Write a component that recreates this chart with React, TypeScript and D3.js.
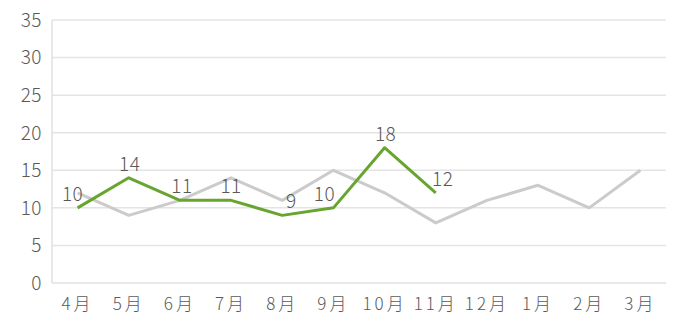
import React from "react";
import * as d3 from "d3";

const months = ["4月", "5月", "6月", "7月", "8月", "9月", "10月", "11月", "12月", "1月", "2月", "3月"];
const prevYear = [12, 9, 11, 14, 11, 15, 12, 8, 11, 13, 10, 15];
const thisYear = [10, 14, 11, 11, 9, 10, 18, 12];
const yTicks = [0, 5, 10, 15, 20, 25, 30, 35];
const labelNudge = [-5, 1, 2, 0, 9, -9, 1, 7];

const W = 685;
const H = 333;
const left = 52;
const right = 666;
const top = 20;
const bottom = 283;
const FONT = "'Noto Sans CJK JP', 'Noto Sans', sans-serif";

export default function App() {
  const x = d3.scaleBand<string>().domain(months).range([left, right]).padding(0);
  const y = d3.scaleLinear().domain([0, 35]).range([bottom, top]);
  const cx = (i: number) => (x(months[i]) as number) + x.bandwidth() / 2;
  const line = d3
    .line<number>()
    .x((_, i) => cx(i))
    .y((d) => y(d));

  return (
    <svg width={W} height={H} style={{ position: "absolute", left: 0, top: 0, background: "#fff" }}>
      {yTicks.map((t) => (
        <g key={t}>
          {t > 0 && (
            <line x1={left} x2={right} y1={y(t)} y2={y(t)} stroke="#e4e4e4" strokeWidth={1.5} />
          )}
          <text
            x={42}
            y={y(t)}
            dy="0.36em"
            textAnchor="end"
            fontFamily={FONT}
            fontSize={19}
            fontWeight={300}
            letterSpacing={0.5}
            fill="#595959"
          >
            {t}
          </text>
        </g>
      ))}
      <line x1={left} x2={right} y1={y(0)} y2={y(0)} stroke="#e0e0e0" strokeWidth={1.5} />
      <line x1={left} x2={left} y1={top} y2={bottom} stroke="#e0e0e0" strokeWidth={1.5} />
      {months.map((m, i) => (
        <text
          key={m}
          x={cx(i)}
          y={310}
          textAnchor="middle"
          fontFamily={FONT}
          fontSize={17}
          fontWeight={300}
          letterSpacing={3}
          fill="#595959"
        >
          {m}
        </text>
      ))}
      <path d={line(prevYear) || ""} fill="none" stroke="#cbcbcb" strokeWidth={3} strokeLinejoin="round" />
      <path d={line(thisYear) || ""} fill="none" stroke="#67a52e" strokeWidth={3} strokeLinejoin="round" />
      {thisYear.map((v, i) => (
        <text
          key={i}
          x={cx(i) + labelNudge[i]}
          y={y(v) - 7}
          textAnchor="middle"
          fontFamily={FONT}
          fontSize={19}
          fontWeight={300}
          letterSpacing={0.5}
          fill="#595959"
        >
          {v}
        </text>
      ))}
    </svg>
  );
}
